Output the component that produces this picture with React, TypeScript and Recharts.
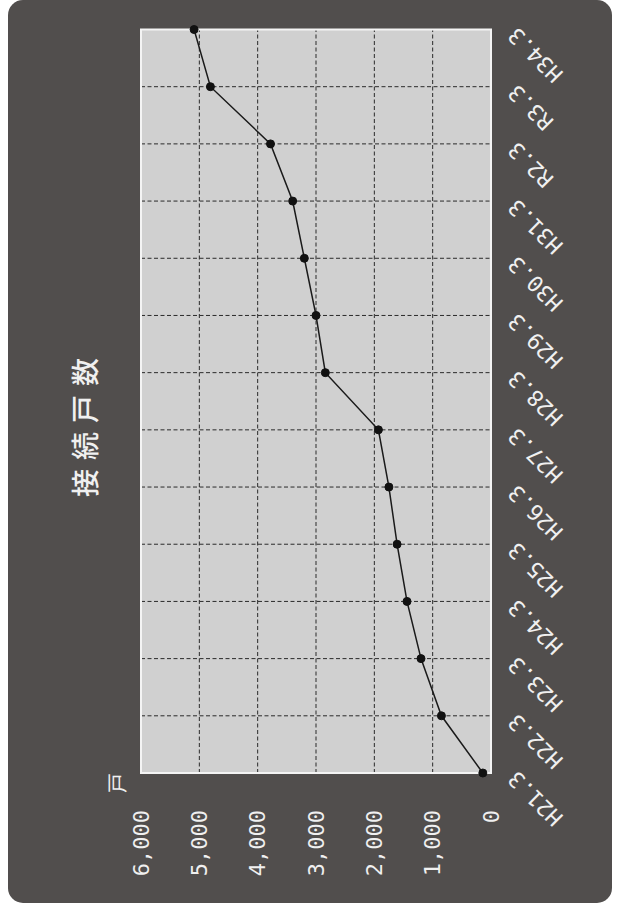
import React from 'react';
import { LineChart, Line, XAxis, YAxis, CartesianGrid, ReferenceArea } from 'recharts';

const categories: string[] = ['H21.3', 'H22.3', 'H23.3', 'H24.3', 'H25.3', 'H26.3', 'H27.3', 'H28.3', 'H29.3', 'H30.3', 'H31.3', 'R2.3', 'R3.3', 'H34.3'];
const households: number[] = [140, 850, 1200, 1440, 1610, 1750, 1930, 2840, 3000, 3200, 3400, 3780, 4810, 5090];
const valueTicks: number[] = [0, 1000, 2000, 3000, 4000, 5000, 6000];
const title = '接続戸数';
const unit = '戸';

const data = categories.map((c, i) => ({ name: c, value: households[i] }));

const TICK_FONT = '"DejaVu Sans Mono", "Liberation Mono", monospace';
const TEXT_COLOR = '#f0f0f0';

const XTick = (props: any) => {
  const { x, y, payload } = props;
  return (
    <g transform={`translate(${x - 2},${y + 21})`}>
      <text transform="rotate(-45)" textAnchor="end" dominantBaseline="central" fill={TEXT_COLOR} fontSize={22} fontFamily={TICK_FONT}>
        {payload.value}
      </text>
    </g>
  );
};

const YTick = (props: any) => {
  const { x, y, payload } = props;
  return (
    <text x={x - 37} y={y} textAnchor="end" dominantBaseline="central" fill={TEXT_COLOR} fontSize={22} fontFamily={TICK_FONT}>
      {Number(payload.value).toLocaleString('en-US')}
    </text>
  );
};

export default function App() {
  return (
    <div style={{ position: 'absolute', left: 0, top: 0, width: 620, height: 905, overflow: 'hidden', background: '#ffffff' }}>
      <div style={{ position: 'absolute', left: 0, top: 0, width: 905, height: 620, transformOrigin: '0 0', transform: 'translateY(905px) rotate(-90deg)' }}>
        <div style={{ position: 'absolute', left: 2, top: 8, width: 903, height: 604, borderRadius: 15, background: '#514e4d' }} />
        <div style={{ position: 'absolute', left: 273, top: 64, width: 400, textAlign: 'center', color: TEXT_COLOR, fontFamily: '"Noto Sans CJK JP", sans-serif', fontSize: 28, fontWeight: 500, letterSpacing: 9, lineHeight: '40px', paddingLeft: 9 }}>
          {title}
        </div>
        <div style={{ position: 'absolute', left: 112, top: 105, color: TEXT_COLOR, fontFamily: '"Noto Sans CJK JP", sans-serif', fontSize: 20, lineHeight: '24px' }}>
          {unit}
        </div>
        <div style={{ position: 'absolute', left: 0, top: 0 }}>
          <LineChart width={905} height={620} data={data} margin={{ top: 141, right: 29.5, bottom: 89, left: 92 }}>
            <CartesianGrid stroke="#2a2a2a" strokeDasharray="4 2.5" strokeWidth={1} fill="#d0d0d0" fillOpacity={1} />
            <ReferenceArea x1="H21.3" x2="H34.3" y1={0} y2={6000} fill="none" stroke="#f4f4f4" strokeWidth={2} />
            <XAxis dataKey="name" height={40} axisLine={false} tickLine={false} tickSize={0} tickMargin={0} interval={0} tick={<XTick />} />
            <YAxis type="number" domain={[0, 6000]} ticks={valueTicks} width={40} axisLine={false} tickLine={false} tickSize={0} tickMargin={0} tick={<YTick />} />
            <Line type="linear" dataKey="value" stroke="#1a1a1a" strokeWidth={1.5} dot={{ r: 4, fill: '#111', stroke: '#111', strokeWidth: 1 }} isAnimationActive={false} />
          </LineChart>
        </div>
      </div>
    </div>
  );
}
